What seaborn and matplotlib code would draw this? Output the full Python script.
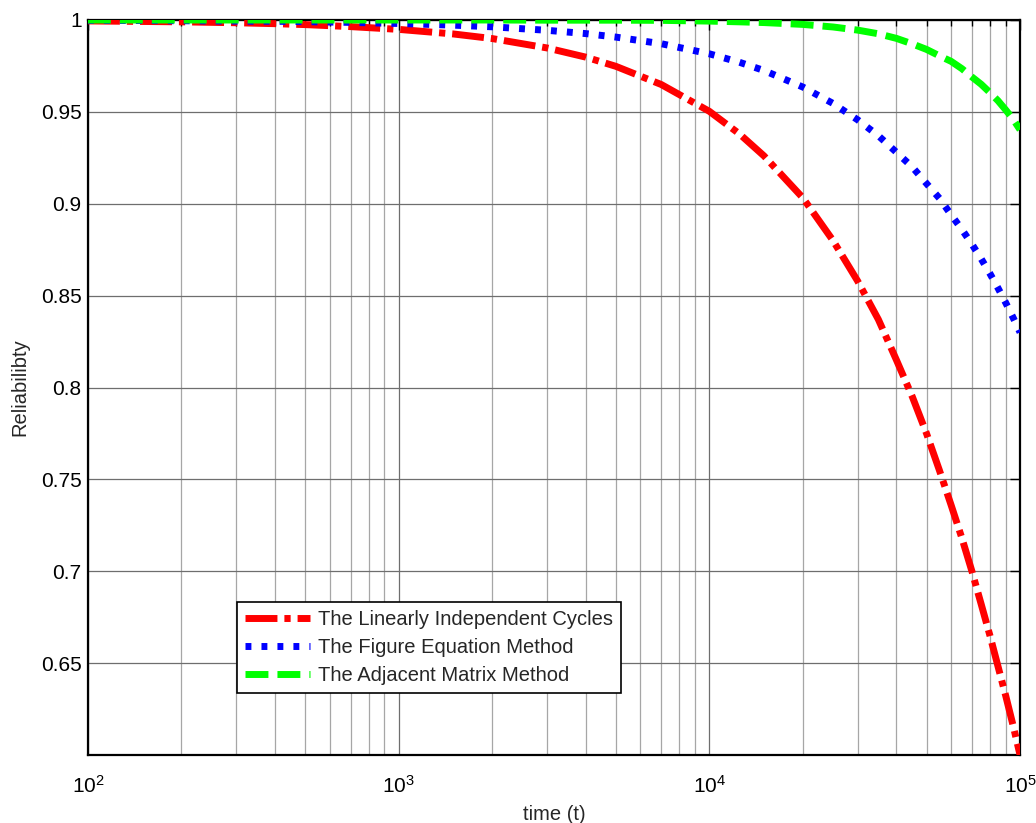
import numpy as np
import pandas as pd
import matplotlib
matplotlib.use("Agg")
import matplotlib.pyplot as plt
import seaborn as sns
from matplotlib.ticker import LogLocator, NullFormatter, FuncFormatter, FixedLocator

# ---- data ----
time_t = [100, 150, 200, 300, 400, 500, 700, 1000, 1500, 2000, 3000, 4000, 5000,
          7000, 10000, 12500, 15000, 20000, 25000, 30000, 35000, 40000, 45000,
          50000, 55000, 60000, 65000, 70000, 75000, 80000, 85000, 90000, 95000, 100000]

rel_cycles = [0.9995, 0.9992, 0.9990, 0.9985, 0.9980, 0.9975, 0.9964, 0.9949, 0.9924,
              0.9899, 0.9848, 0.9798, 0.9748, 0.9649, 0.9503, 0.9380, 0.9260, 0.9032,
              0.8800, 0.8580, 0.8370, 0.8150, 0.7950, 0.7750, 0.7550, 0.7360, 0.7180,
              0.7000, 0.6820, 0.6650, 0.6480, 0.6320, 0.6160, 0.6000]

rel_figure = [0.9998, 0.9997, 0.9996, 0.9994, 0.9993, 0.9991, 0.9987, 0.9981, 0.9972,
              0.9963, 0.9944, 0.9926, 0.9907, 0.9871, 0.9816, 0.9770, 0.9725, 0.9635,
              0.9546, 0.9457, 0.9370, 0.9280, 0.9200, 0.9110, 0.9030, 0.8940, 0.8860,
              0.8780, 0.8700, 0.8620, 0.8540, 0.8460, 0.8380, 0.8300]

rel_adjacent = [1.0, 1.0, 1.0, 1.0, 1.0, 1.0, 1.0, 1.0, 1.0, 1.0, 0.9999, 0.9999, 0.9999,
                0.9998, 0.9994, 0.9990, 0.9986, 0.9976, 0.9962, 0.9945, 0.9925, 0.9900,
                0.9870, 0.9840, 0.9805, 0.9775, 0.9735, 0.9690, 0.9650, 0.9605, 0.9560,
                0.9510, 0.9460, 0.9403]

series_names = ["The Linearly Independent Cycles",
                "The Figure Equation Method",
                "The Adjacent Matrix Method"]

y_ticks = [0.65, 0.7, 0.75, 0.8, 0.85, 0.9, 0.95, 1.0]

df = pd.DataFrame({
    "time": time_t * 3,
    "rel": rel_cycles + rel_figure + rel_adjacent,
    "method": [series_names[0]] * len(time_t) + [series_names[1]] * len(time_t)
              + [series_names[2]] * len(time_t),
})

# ---- styling ----
sns.set_theme(style="white")
plt.rcParams["font.family"] = ["Liberation Sans", "DejaVu Sans"]
plt.rcParams["mathtext.fontset"] = "custom"
plt.rcParams["mathtext.rm"] = "Liberation Sans"
plt.rcParams["mathtext.it"] = "Liberation Sans:italic"

fig = plt.figure(figsize=(10.36, 8.23), dpi=100)
ax = fig.add_axes([0.0849, 0.0826, 0.8997, 0.8931])

palette = {series_names[0]: "#ff0000", series_names[1]: "#0000ff", series_names[2]: "#00ff00"}
dashes = {series_names[0]: (4.6, 1.0, 0.9, 1.0),
          series_names[1]: (0.85, 1.45),
          series_names[2]: (3.3, 1.3)}

sns.lineplot(data=df, x="time", y="rel", hue="method", style="method",
             hue_order=series_names, style_order=series_names,
             palette=palette, dashes=dashes, linewidth=5, estimator=None,
             sort=False, ax=ax, zorder=3)

ax.set_xscale("log")
ax.set_xlim(100, 1e5)
ax.set_ylim(0.6, 1.0)
ax.yaxis.set_major_locator(FixedLocator(y_ticks))
ax.yaxis.set_major_formatter(FuncFormatter(lambda v, p: "%g" % round(v, 2)))
ax.xaxis.set_major_locator(LogLocator(base=10, numticks=10))
ax.xaxis.set_minor_locator(LogLocator(base=10, subs=np.arange(2, 10), numticks=20))
ax.xaxis.set_minor_formatter(NullFormatter())

ax.grid(True, which="major", axis="both", color="#6e6e6e", linewidth=0.9)
ax.grid(True, which="minor", axis="x", color="#a6a6a6", linewidth=0.9)
ax.set_axisbelow(True)

for s in ax.spines.values():
    s.set_visible(True)
    s.set_color("black")
    s.set_linewidth(1.6)

ax.tick_params(axis="both", which="major", direction="in", length=7, width=1,
               top=True, right=True, labelsize=15, colors="black")
ax.tick_params(axis="y", which="major", pad=4.5)
ax.tick_params(axis="x", which="major", pad=14)
ax.tick_params(axis="both", which="minor", direction="in", length=4, width=1,
               top=True, right=True, colors="black")

ax.set_xlabel("time (t)", fontsize=14.5, labelpad=6)
ax.set_ylabel("Reliabilibty", fontsize=14.5, labelpad=8)

leg = ax.legend(loc="lower left", bbox_to_anchor=(0.160, 0.084), fontsize=14.5,
                frameon=True, fancybox=False, edgecolor="black", framealpha=1,
                handlelength=3.2, handletextpad=0.4, labelspacing=0.45,
                borderpad=0.4, borderaxespad=0)
leg.get_frame().set_linewidth(1.2)

fig.savefig("out.png", dpi=100)
